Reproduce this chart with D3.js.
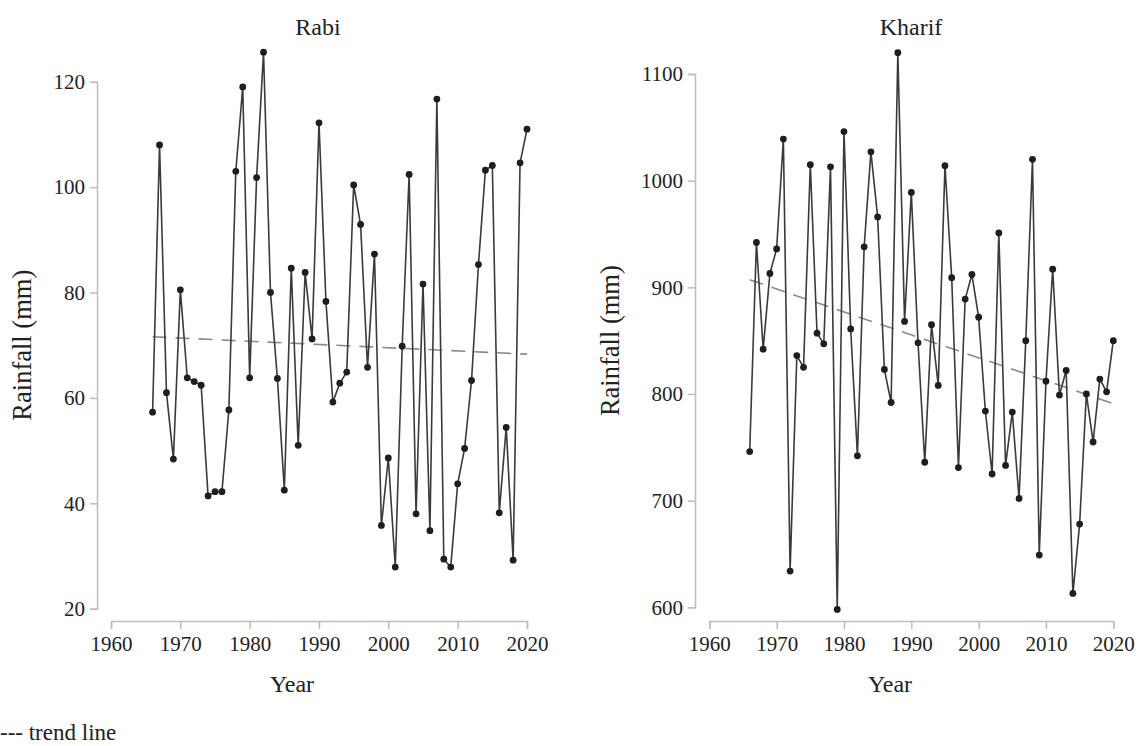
<!DOCTYPE html>
<html>
<head>
<meta charset="utf-8">
<script src="https://cdn.jsdelivr.net/npm/d3@7"></script>
<style>
  body { margin: 0; background: #fff; }
  svg text { font-family: "Liberation Serif", "Times New Roman", Times, "DejaVu Serif", serif !important; fill: #222; }
</style>
</head>
<body>
<svg id="chart" width="1141" height="746"></svg>
<script>
// Seasonal rainfall series, 1966–2020
const years = d3.range(1966, 2021);

const rabiRainfall = [
  57.3, 108.0, 61.0, 48.4, 80.5, 63.8, 63.1, 62.4, 41.4, 42.2,
  42.2, 57.7, 103.0, 119.0, 63.8, 101.8, 125.6, 80.0, 63.7, 42.5,
  84.6, 51.0, 83.8, 71.2, 112.2, 78.3, 59.2, 62.8, 64.9, 100.4,
  92.9, 65.8, 87.3, 35.8, 48.6, 27.9, 69.8, 102.4, 38.0, 81.6,
  34.8, 116.7, 29.4, 27.9, 43.7, 50.4, 63.3, 85.3, 103.2, 104.1,
  38.2, 54.4, 29.2, 104.6, 111.0
];

const kharifRainfall = [
  746, 942, 842, 913, 936, 1039, 634, 836, 825, 1015,
  857, 847, 1013, 598, 1046, 861, 742, 938, 1027, 966,
  823, 792, 1120, 868, 989, 848, 736, 865, 808, 1014,
  909, 731, 889, 912, 872, 784, 725, 951, 733, 783,
  702, 850, 1020, 649, 812, 917, 799, 822, 613, 678,
  800, 755, 814, 802, 850
];

// Trend line end points (first and last year)
const trendYears = [1966, 2020];
const rabiTrend = [71.6, 68.3];
const kharifTrend = [907, 791];

const xTicks = [1960, 1970, 1980, 1990, 2000, 2010, 2020];
const rabiTicks = [20, 40, 60, 80, 100, 120];
const kharifTicks = [600, 700, 800, 900, 1000, 1100];

const serif = "'Liberation Serif', 'Times New Roman', Times, serif";
const svg = d3.select("#chart");

const panels = [
  { title: "Rabi", values: rabiRainfall, trend: rabiTrend, yTicks: rabiTicks,
    yDomain: [20, 120], x0: 111, x1: 527, yTop: 81.7, yBot: 608.7,
    yAxisX: 97, xAxisY: 621, yLabelX: 22, titleX: 318, xLabelX: 292 },
  { title: "Kharif", values: kharifRainfall, trend: kharifTrend, yTicks: kharifTicks,
    yDomain: [600, 1100], x0: 709.3, x1: 1113.3, yTop: 74, yBot: 607.3,
    yAxisX: 695, xAxisY: 621, yLabelX: 610, titleX: 911, xLabelX: 890 }
];

const axisColor = "#bdbdbd";
const tickFont = "21px";
const labelFont = "24px";

panels.forEach(p => {
  const x = d3.scaleLinear().domain([1960, 2020]).range([p.x0, p.x1]);
  const y = d3.scaleLinear().domain(p.yDomain).range([p.yBot, p.yTop]);
  const g = svg.append("g");

  // x axis (detached, below the plot)
  const xa = g.append("g")
    .attr("transform", `translate(0,${p.xAxisY})`)
    .call(d3.axisBottom(x).tickValues(xTicks).tickFormat(d3.format("d")).tickSizeOuter(0).tickSize(8).tickPadding(7));
  xa.attr("font-family", serif);
  xa.select(".domain").attr("stroke", axisColor).attr("stroke-width", 1.5);
  xa.selectAll(".tick line").attr("stroke", axisColor).attr("stroke-width", 1.5);
  xa.selectAll(".tick text").style("font-family", serif).style("font-size", tickFont).attr("fill", "#222");

  // y axis (detached, to the left)
  const ya = g.append("g")
    .attr("transform", `translate(${p.yAxisX},0)`)
    .call(d3.axisLeft(y).tickValues(p.yTicks).tickFormat(d3.format("d")).tickSizeOuter(0).tickSize(7).tickPadding(5));
  ya.attr("font-family", serif);
  ya.select(".domain").attr("stroke", axisColor).attr("stroke-width", 1.5);
  ya.selectAll(".tick line").attr("stroke", axisColor).attr("stroke-width", 1.5);
  ya.selectAll(".tick text").style("font-family", serif).style("font-size", tickFont).attr("fill", "#222");

  // trend line
  g.append("path")
    .datum(trendYears.map((yr, i) => [yr, p.trend[i]]))
    .attr("d", d3.line().x(d => x(d[0])).y(d => y(d[1])))
    .attr("fill", "none")
    .attr("stroke", "#8a8a8a")
    .attr("stroke-width", 1.6)
    .attr("stroke-dasharray", "14,9");

  // rainfall series
  const pts = years.map((yr, i) => [yr, p.values[i]]);
  g.append("path")
    .datum(pts)
    .attr("d", d3.line().x(d => x(d[0])).y(d => y(d[1])))
    .attr("fill", "none")
    .attr("stroke", "#3a3a3a")
    .attr("stroke-width", 1.6);

  g.selectAll("circle.pt")
    .data(pts)
    .join("circle")
    .attr("class", "pt")
    .attr("cx", d => x(d[0]))
    .attr("cy", d => y(d[1]))
    .attr("r", 3.4)
    .attr("fill", "#1e1e1e");

  // titles and axis labels
  g.append("text").attr("x", p.titleX).attr("y", 35)
    .attr("text-anchor", "middle").style("font-size", labelFont).text(p.title);
  g.append("text").attr("x", p.xLabelX).attr("y", 692)
    .attr("text-anchor", "middle").style("font-size", labelFont).text("Year");
  g.append("text")
    .attr("transform", `translate(${p.yLabelX},${(p.yTop + p.yBot) / 2}) rotate(-90)`)
    .attr("text-anchor", "middle").attr("dy", "0.35em")
    .style("font-size", "26.5px").text("Rainfall (mm)");
});

// legend note
svg.append("text").attr("x", 0).attr("y", 740)
  .style("font-size", "23px").text("--- trend line");
</script>
</body>
</html>
